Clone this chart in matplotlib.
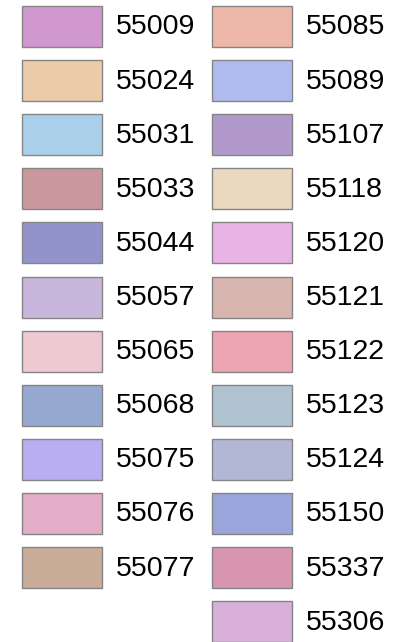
import matplotlib.pyplot as plt
from matplotlib.patches import Rectangle

plt.rcParams['font.family'] = ['Liberation Sans', 'DejaVu Sans']

# legend entries, left column then right column
left_labels = ['55009', '55024', '55031', '55033', '55044', '55057',
               '55065', '55068', '55075', '55076', '55077']
left_colors = ['#D198D0', '#EBCBA9', '#AACFEA', '#CA989C', '#9393CB', '#C9B6DC',
               '#EEC9D2', '#94A8D0', '#B9AEF2', '#E3AECA', '#C9AD99']
right_labels = ['55085', '55089', '55107', '55118', '55120', '55121',
                '55122', '55123', '55124', '55150', '55337', '55306']
right_colors = ['#EDB8AA', '#AFBBEE', '#B199CB', '#EAD8BF', '#E8B4E6', '#D8B5AE',
                '#EDA6B1', '#AFC3D1', '#B3B7D6', '#9AA5DB', '#D795B0', '#D8B0D9']

fig = plt.figure(figsize=(4.1, 6.42), dpi=100)
ax = fig.add_axes([0, 0, 1, 1])
ax.set_xlim(0, 410)
ax.set_ylim(642, 0)
ax.axis('off')

col_x = [22, 212]
box_w, box_h = 80, 41
pitch = 54.1
top = 6

for c, (labels, colors) in enumerate([(left_labels, left_colors), (right_labels, right_colors)]):
    for i, (lab, col) in enumerate(zip(labels, colors)):
        y = top + i * pitch
        ax.add_patch(Rectangle((col_x[c], y), box_w, box_h, facecolor=col,
                               edgecolor='#858585', linewidth=1))
        ax.text(col_x[c] + box_w + 14, y + box_h / 2 + 1, lab, fontsize=20.5,
                va='center', ha='left', color='black')

fig.savefig('out.png', dpi=100)
